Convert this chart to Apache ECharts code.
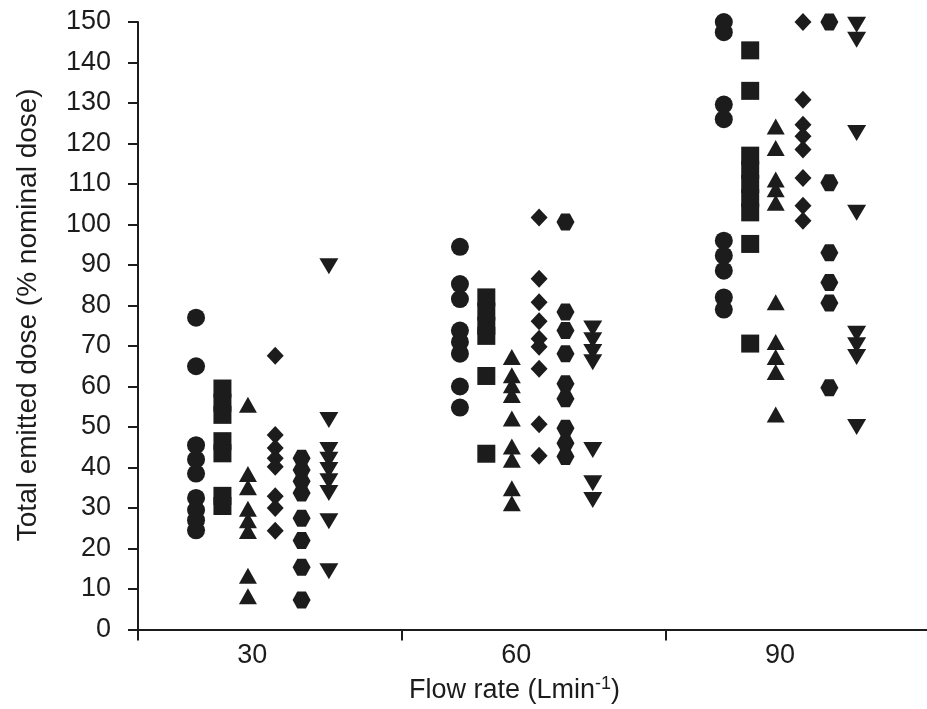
<!DOCTYPE html>
<html>
<head>
<meta charset="utf-8">
<script src="https://cdn.jsdelivr.net/npm/echarts@6/dist/echarts.min.js"></script>
<style>
  html, body { margin: 0; padding: 0; background: #fff; }
  #chart { width: 927px; height: 709px; }
</style>
</head>
<body>
<div id="chart"></div>
<script>
// flow rate groups and tick labels
var flowRates = [30, 60, 90];
var xTickLabels = [30, 60, 90];
var yTicks = [0, 150, 10]; // min, max, step

// one column per symbol inside each flow-rate group
var columnOffsets = [-6.4, -3.4, -0.5, 2.6, 5.6, 8.7];

// emitted dose (% nominal), one list per flow rate (30, 60, 90)
var circleValues = [
  [77, 65, 45.5, 42, 38.5, 32.5, 29.5, 27, 24.5],
  [94.5, 85.3, 81.6, 73.8, 71, 68.1, 60, 54.8],
  [150, 147.5, 129.6, 126, 96, 92.3, 88.6, 82, 79]
];
var squareValues = [
  [59.5, 56, 53, 46.5, 43.5, 33, 30.5],
  [82, 78.5, 75, 72.5, 62.6, 43.4],
  [143, 133, 117, 113.5, 110, 106.5, 103, 95.2, 70.6]
];
var triangleValues = [
  [55.5, 38.4, 35.1, 29.8, 27, 24.3, 13.3, 8.2],
  [67.3, 62.8, 60.3, 57.9, 52.1, 45.2, 41.9, 34.9, 31.2],
  [124.2, 118.9, 111.1, 108.7, 105.4, 80.8, 71, 67.3, 63.6, 53.1]
];
var diamondValues = [
  [67.6, 48, 44.8, 42.3, 40.2, 32.9, 30, 24.4],
  [101.7, 86.6, 80.8, 76.1, 71.8, 69.8, 64.4, 50.7, 42.9],
  [150, 130.8, 124.6, 121.8, 118.5, 111.5, 104.6, 100.9]
];
var hexagonValues = [
  [42.3, 39.4, 36.6, 33.7, 27.5, 22, 15.4, 7.3],
  [100.6, 78.4, 73.8, 68.1, 60.7, 57, 49.7, 46, 42.7],
  [150, 110.3, 93, 85.7, 80.6, 59.7]
];
var invTriangleValues = [
  [89.7, 51.7, 44.3, 41.9, 39.4, 36.6, 33.7, 26.7, 14.4],
  [74.3, 71.4, 68.5, 66, 44.3, 36.1, 32],
  [149.3, 145.6, 122.6, 102.9, 73, 70.2, 67.3, 50]
];

var ink = "#1c1c1c";
var font = "Liberation Sans, Arial, sans-serif";
var hexagon = "path://M0,5 L2.6,0 L7.4,0 L10,5 L7.4,10 L2.6,10 Z";

// turn [group][values] into scatter points
function toPoints(groups, col) {
  var pts = [];
  groups.forEach(function (vals, g) {
    vals.forEach(function (v) {
      pts.push([flowRates[g] + columnOffsets[col], v]);
    });
  });
  return pts;
}

function makeSeries(name, groups, col, symbol, size, rotate) {
  return {
    name: name,
    type: "scatter",
    data: toPoints(groups, col),
    symbol: symbol,
    symbolSize: size,
    symbolRotate: rotate || 0,
    clip: false,
    itemStyle: { color: ink, opacity: 1 },
    silent: true
  };
}

var chart = echarts.init(document.getElementById("chart"));

var option = {
  backgroundColor: "#fff",
  animation: false,
  grid: { left: 138, right: 0, top: 22, bottom: 77 },
  xAxis: {
    type: "value",
    min: 17,
    max: 106.7,
    name: "{n|Flow rate (Lmin}{s|-1}{n|)}",
    nameLocation: "middle",
    nameGap: 46,
    nameTextStyle: {
      padding: [0, 36, 0, 0],
      rich: {
        n: { fontSize: 27, fontFamily: font, color: ink },
        s: { fontSize: 18, fontFamily: font, color: ink, verticalAlign: "top", padding: [0, 0, 12, 0] }
      }
    },
    axisLine: { lineStyle: { color: ink, width: 2 } },
    axisTick: { customValues: [17, 47, 77], length: 11, lineStyle: { color: ink, width: 2 } },
    axisLabel: {
      customValues: xTickLabels,
      margin: 13,
      fontSize: 27,
      fontFamily: font,
      color: ink
    },
    splitLine: { show: false }
  },
  yAxis: {
    type: "value",
    min: yTicks[0],
    max: yTicks[1],
    interval: yTicks[2],
    name: "Total emitted dose (% nominal dose)",
    nameLocation: "middle",
    nameGap: 96,
    nameTextStyle: { fontSize: 28, fontFamily: font, color: ink, padding: [0, 0, 0, 22] },
    axisLine: { lineStyle: { color: ink, width: 2 } },
    axisTick: { length: 10, lineStyle: { color: ink, width: 2 } },
    axisLabel: { margin: 27, fontSize: 27, fontFamily: font, color: ink },
    splitLine: { show: false }
  },
  series: [
    makeSeries("circle", circleValues, 0, "circle", 18),
    makeSeries("square", squareValues, 1, "rect", 18),
    makeSeries("triangle", triangleValues, 2, "triangle", [18, 16]),
    makeSeries("diamond", diamondValues, 3, "diamond", [17, 18]),
    makeSeries("hexagon", hexagonValues, 4, hexagon, [18, 17]),
    makeSeries("inverted triangle", invTriangleValues, 5, "triangle", [19, 16], 180)
  ]
};

chart.setOption(option);
</script>
</body>
</html>
